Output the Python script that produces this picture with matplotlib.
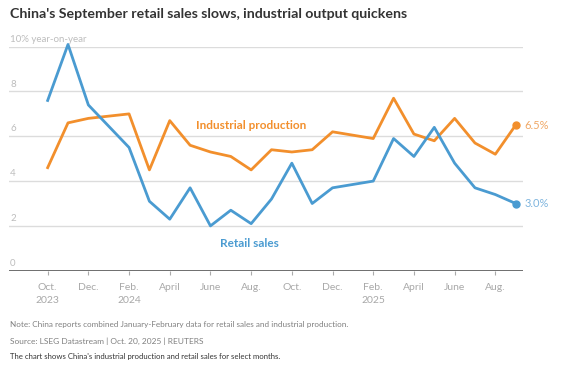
import matplotlib.pyplot as plt

# months since Oct. 2023 (January is reported combined with February, so no point)
months = [0, 1, 2, 4, 5, 6, 7, 8, 9, 10, 11, 12, 13, 14, 16, 17, 18, 19, 20, 21, 22, 23]
industrial = [4.6, 6.6, 6.8, 7.0, 4.5, 6.7, 5.6, 5.3, 5.1, 4.5, 5.4, 5.3, 5.4, 6.2,
              5.9, 7.7, 6.1, 5.8, 6.8, 5.7, 5.2, 6.5]
retail = [7.6, 10.1, 7.4, 5.5, 3.1, 2.3, 3.7, 2.0, 2.7, 2.1, 3.2, 4.8, 3.0, 3.7,
          4.0, 5.9, 5.1, 6.4, 4.8, 3.7, 3.4, 3.0]
tick_pos = [0, 2, 4, 6, 8, 10, 12, 14, 16, 18, 20, 22]
tick_labels = ["Oct.\n2023", "Dec.", "Feb.\n2024", "April", "June", "Aug.",
               "Oct.", "Dec.", "Feb.\n2025", "April", "June", "Aug."]
y_ticks = [0, 2, 4, 6, 8, 10]

orange = "#f28f2c"
blue = "#4a9bd1"
grid = "#dcdcdc"
light = "#bdbdbd"

plt.rcParams['font.family'] = ['Lato', 'DejaVu Sans']

fig = plt.figure(figsize=(5.81, 3.82), dpi=100)
ax = fig.add_axes([9 / 581, 1 - 270.7 / 382, 514 / 581, 224 / 382])

ax.plot(months, industrial, color=orange, lw=2, clip_on=False, zorder=3)
ax.plot(months, retail, color=blue, lw=2, clip_on=False, zorder=3)
ax.plot(months[-1], industrial[-1], 'o', color=orange, ms=5, clip_on=False, zorder=4)
ax.plot(months[-1], retail[-1], 'o', color=blue, ms=5, clip_on=False, zorder=4)

ax.set_xlim(-1.9, 23.36)
ax.set_ylim(0, 10)

for v in y_ticks[1:]:
    ax.axhline(v, color=grid, lw=1, zorder=1)
ax.axhline(0, color="#555555", lw=1.2, zorder=2)
for v in y_ticks:
    lab = "10% year-on-year" if v == 10 else str(v)
    ax.text(0.002, v + 0.13, lab, transform=ax.get_yaxis_transform(), ha='left',
            va='bottom', fontsize=7, color=light)

ax.set_yticks([])
ax.set_xticks(tick_pos)
ax.set_xticklabels(tick_labels, fontsize=7.5, color="#a8a8a8", linespacing=1.5)
ax.tick_params(axis='x', length=3, color="#aaaaaa", pad=6)
for s in ax.spines.values():
    s.set_visible(False)

ax.text(7.3, 6.5, "Industrial production", color=orange, fontsize=8.5,
        fontweight='bold', va='center', ha='left')
ax.text(8.45, 1.2, "Retail sales", color=blue, fontsize=8.5,
        fontweight='bold', va='center', ha='left')
ax.text(23.45, industrial[-1], "6.5%", color="#f0a866", fontsize=8, va='center',
        ha='left', clip_on=False)
ax.text(23.45, retail[-1], "3.0%", color="#7fb5de", fontsize=8, va='center',
        ha='left', clip_on=False)

fig.text(10 / 581, 1 - 14 / 382, "China's September retail sales slows, industrial output quickens",
         fontsize=10.2, fontweight='bold', color="#333333", va='center', ha='left')
fig.text(10 / 581, 1 - 325 / 382,
         "Note: China reports combined January-February data for retail sales and industrial production.",
         fontsize=5.9, color="#808080", va='center', ha='left')
fig.text(10 / 581, 1 - 341 / 382, "Source: LSEG Datastream | Oct. 20, 2025 | REUTERS",
         fontsize=6.0, color="#808080", va='center', ha='left')
fig.text(10 / 581, 1 - 356 / 382,
         "The chart shows China's industrial production and retail sales for select months.",
         fontsize=5.6, color="#333333", va='center', ha='left')

fig.savefig("out.png", dpi=100)
